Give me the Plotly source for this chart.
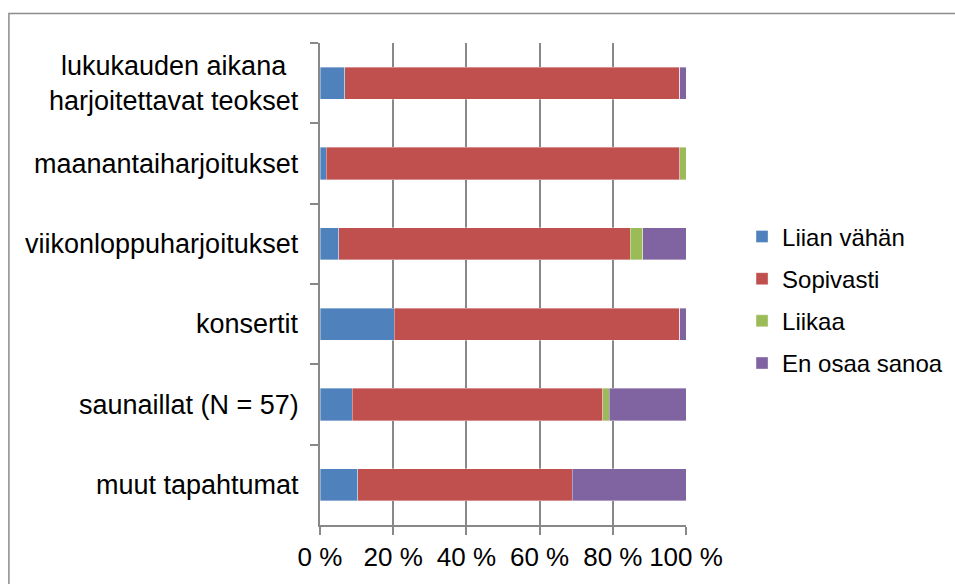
import plotly.graph_objects as go

categories = [
    "lukukauden aikana<br>harjoitettavat teokset",
    "maanantaiharjoitukset",
    "viikonloppuharjoitukset",
    "konsertit",
    "saunaillat (N = 57)",
    "muut tapahtumat",
]

series_names = ["Liian vähän", "Sopivasti", "Liikaa", "En osaa sanoa"]
liian_vahan = [6.8, 1.7, 5.1, 20.3, 8.8, 10.3]
sopivasti = [91.5, 96.6, 79.7, 78.0, 68.4, 58.6]
liikaa = [0.0, 1.7, 3.4, 0.0, 1.8, 0.0]
en_osaa_sanoa = [1.7, 0.0, 11.9, 1.7, 21.1, 31.1]

x_ticks = [0, 20, 40, 60, 80, 100]
x_tick_labels = ["0 %", "20 %", "40 %", "60 %", "80 %", "100 %"]

colors = ["#4F81BD", "#C0504D", "#9BBB59", "#8064A2"]
FONT = "Liberation Sans, Arial, sans-serif"
GRID = "#888888"

fig = go.Figure()
for name, values, color in zip(
    series_names, [liian_vahan, sopivasti, liikaa, en_osaa_sanoa], colors
):
    fig.add_trace(
        go.Bar(
            x=values,
            y=categories,
            orientation="h",
            name=name,
            legendgroup=name,
            marker={"color": color, "line": {"color": "rgba(255,255,255,0.6)", "width": 0.6}},
        )
    )

# category labels, centred line by line like the original
for cat in categories:
    fig.add_annotation(
        x=-0.052,
        y=cat,
        xref="paper",
        yref="y",
        text=cat,
        showarrow=False,
        xanchor="right",
        align="center",
        font={"family": FONT, "size": 27, "color": "#000000"},
    )

# outer chart border (only its top and left edges fall inside the page)
fig.add_shape(
    type="rect",
    xref="paper",
    yref="paper",
    x0=-0.85,
    x1=1.8,
    y0=-0.3,
    y1=1.061,
    line={"color": "#8c8c8c", "width": 1.5},
    fillcolor="rgba(0,0,0,0)",
    layer="below",
)

fig.update_xaxes(
    range=[0, 100],
    tickvals=x_ticks,
    ticktext=x_tick_labels,
    tickangle=0,
    showgrid=True,
    gridcolor=GRID,
    gridwidth=1.5,
    showline=True,
    linecolor=GRID,
    linewidth=1.5,
    ticks="outside",
    ticklen=8,
    tickcolor=GRID,
    tickwidth=1.5,
    zeroline=False,
    tickfont={"family": FONT, "size": 26, "color": "#000000"},
)
fig.update_yaxes(
    categoryorder="array",
    categoryarray=categories,
    autorange="reversed",
    showticklabels=False,
    showline=True,
    linecolor=GRID,
    linewidth=1.5,
    ticks="outside",
    tickson="boundaries",
    ticklen=8,
    tickcolor=GRID,
    tickwidth=1.5,
    showgrid=False,
)
fig.update_layout(
    barmode="stack",
    bargap=0.6,
    width=955,
    height=584,
    margin={"l": 320, "r": 269, "t": 43, "b": 59},
    plot_bgcolor="#ffffff",
    paper_bgcolor="#ffffff",
    font={"family": FONT, "color": "#000000"},
    legend={
        "xref": "container",
        "yref": "container",
        "x": 0.777,
        "y": 0.633,
        "xanchor": "left",
        "yanchor": "top",
        "font": {"family": FONT, "size": 24, "color": "#000000"},
        "tracegroupgap": 8,
        "traceorder": "grouped",
        "bgcolor": "rgba(0,0,0,0)",
    },
)

fig.write_html(
    "out.html",
    config={"displayModeBar": False},
    post_script="document.body.style.margin='0';",
)
